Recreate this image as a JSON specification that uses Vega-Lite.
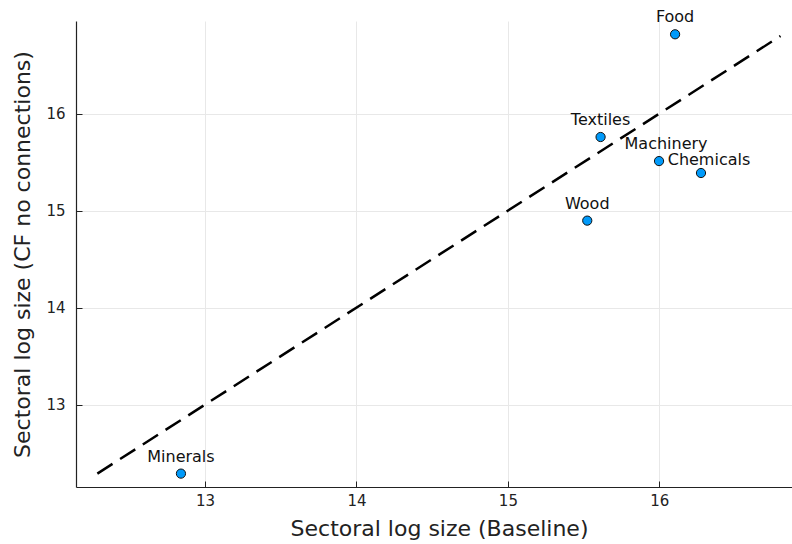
{
  "$schema": "https://vega.github.io/schema/vega-lite/v6.json",
  "width": 716,
  "height": 466,
  "autosize": {"type": "none"},
  "padding": {"left": 76, "top": 21, "right": 0, "bottom": 57},
  "background": "white",
  "config": {
    "view": {"stroke": null},
    "font": "DejaVu Sans",
    "axis": {
      "domainColor": "#222222",
      "domainWidth": 1.2,
      "tickColor": "#222222",
      "tickSize": -6,
      "tickWidth": 1,
      "gridColor": "#e8e8e8",
      "gridWidth": 1,
      "labelFont": "DejaVu Sans",
      "labelFontSize": 15,
      "labelColor": "#222222",
      "titleFont": "DejaVu Sans",
      "titleFontSize": 22,
      "titleFontWeight": "normal",
      "titleColor": "#222222",
      "format": "d"
    }
  },
  "datasets": {
    "sectors": [
      {"sector": "Food", "baseline": 16.104, "cf": 16.818},
      {"sector": "Textiles", "baseline": 15.612, "cf": 15.759},
      {"sector": "Machinery", "baseline": 15.998, "cf": 15.511},
      {"sector": "Chemicals", "baseline": 16.275, "cf": 15.388},
      {"sector": "Wood", "baseline": 15.524, "cf": 14.897},
      {"sector": "Minerals", "baseline": 12.841, "cf": 12.289}
    ],
    "diag": [{"v": 12.289}, {"v": 16.8}]
  },
  "layer": [
    {
      "data": {"name": "diag"},
      "mark": {"type": "line", "color": "black", "strokeDash": [18, 9], "strokeWidth": 2.5, "clip": true},
      "encoding": {
        "x": {
          "field": "v", "type": "quantitative",
          "scale": {"domain": [12.148, 16.876], "zero": false, "nice": false},
          "axis": {"title": "Sectoral log size (Baseline)", "values": [13, 14, 15, 16], "format": "d", "labelPadding": 12, "titlePadding": 10, "titleX": 363, "grid": true}
        },
        "y": {
          "field": "v", "type": "quantitative",
          "scale": {"domain": [12.151, 16.955], "zero": false, "nice": false},
          "axis": {"title": "Sectoral log size (CF no connections)", "values": [13, 14, 15, 16], "format": "d", "labelPadding": 17, "titlePadding": 11, "grid": true}
        }
      }
    },
    {
      "data": {"name": "sectors"},
      "mark": {"type": "point", "filled": true, "fill": "#009AFA", "stroke": "#111111", "strokeWidth": 1, "size": 85, "opacity": 1},
      "encoding": {
        "x": {"field": "baseline", "type": "quantitative"},
        "y": {"field": "cf", "type": "quantitative"}
      }
    },
    {
      "data": {"name": "sectors"},
      "transform": [{"filter": "datum.sector !== 'Machinery' && datum.sector !== 'Chemicals'"}],
      "mark": {"type": "text", "fontSize": 16, "font": "DejaVu Sans", "color": "#111111", "align": "center", "baseline": "middle", "dy": -17},
      "encoding": {
        "x": {"field": "baseline", "type": "quantitative"},
        "y": {"field": "cf", "type": "quantitative"},
        "text": {"field": "sector"}
      }
    },
    {
      "data": {"name": "sectors"},
      "transform": [{"filter": "datum.sector === 'Machinery'"}],
      "mark": {"type": "text", "fontSize": 16, "font": "DejaVu Sans", "color": "#111111", "align": "center", "baseline": "middle", "dx": 7, "dy": -17},
      "encoding": {
        "x": {"field": "baseline", "type": "quantitative"},
        "y": {"field": "cf", "type": "quantitative"},
        "text": {"field": "sector"}
      }
    },
    {
      "data": {"name": "sectors"},
      "transform": [{"filter": "datum.sector === 'Chemicals'"}],
      "mark": {"type": "text", "fontSize": 16, "font": "DejaVu Sans", "color": "#111111", "align": "center", "baseline": "middle", "dx": 8, "dy": -13},
      "encoding": {
        "x": {"field": "baseline", "type": "quantitative"},
        "y": {"field": "cf", "type": "quantitative"},
        "text": {"field": "sector"}
      }
    }
  ]
}
